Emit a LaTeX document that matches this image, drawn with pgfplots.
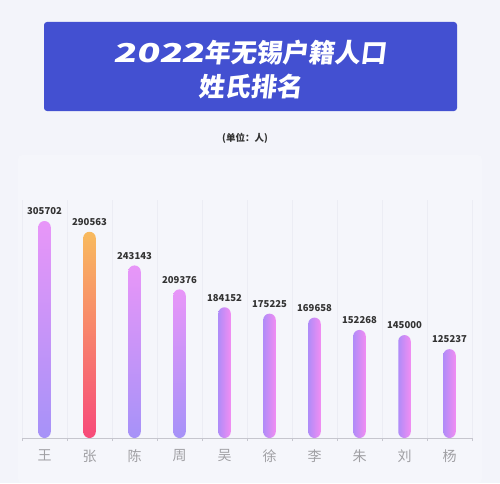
\documentclass[border=0pt]{standalone}
\usepackage{graphicx}
\usepackage{pgfplots}
\pgfplotsset{compat=1.18}
\usepackage{fontspec}
\setmainfont{Noto Sans}
\newfontfamily\cjk{Noto Sans CJK SC}
\newfontfamily\titlefont[FakeSlant=0.12]{Noto Sans CJK SC}

\definecolor{bg}{HTML}{F3F4FA}
\definecolor{panel}{HTML}{F5F6FB}
\definecolor{titlebg}{HTML}{4350D1}
\definecolor{txt}{HTML}{333333}
\definecolor{lbl}{HTML}{A0A0A4}
\definecolor{axisc}{HTML}{C6C6CE}
\definecolor{gridc}{HTML}{ECEDF4}
\definecolor{pinkT}{HTML}{E896F8}
\definecolor{purpB}{HTML}{A692F8}
\definecolor{purpL}{HTML}{B08CF8}
\definecolor{pinkR}{HTML}{F28DF2}
\definecolor{orangeT}{HTML}{F8BA5E}
\definecolor{redB}{HTML}{F74A7A}

\pgfplotsset{
  bar/.style={ybar, bar shift=0pt, bar width=12.5pt, draw=none,
    rounded corners=6.2pt,
    point meta=explicit symbolic,
    nodes near coords=\pgfplotspointmeta,
    every node near coord/.append style={font=\cjk\bfseries\fontsize{9.5}{9.5}\selectfont,
      text=txt, yshift=2.5pt}},
  vbar/.style={bar, top color=pinkT, bottom color=purpB},
  hbar/.style={bar, left color=purpL, right color=pinkR},
}

\begin{document}
\begin{tikzpicture}
\fill[bg] (0pt,0pt) rectangle (500pt,483pt);
\fill[panel, rounded corners=4pt] (18pt,0pt) rectangle (482pt,328pt);
\fill[titlebg, rounded corners=3pt] (44pt,372pt) rectangle (457pt,461pt);
\node[white, font=\titlefont\bfseries\fontsize{26}{26}\selectfont] at (250pt,430pt)
  {\scalebox{1.45}[1]{2022}年无锡户籍人口};
\node[white, font=\titlefont\bfseries\fontsize{26}{26}\selectfont] at (250pt,396pt) {姓氏排名};
\node[text=txt, font=\cjk\bfseries\fontsize{9.5}{10}\selectfont] at (245pt,345pt) {(单位：人)};

\begin{axis}[
  at={(22pt,45pt)}, anchor=south west,
  scale only axis, width=450pt, height=238pt,
  xmin=-0.5, xmax=9.5, ymin=0, ymax=335300,
  clip=false,
  axis x line*=bottom, axis y line=none,
  axis line style={axisc, line width=0.8pt},
  xtick={0,...,9},
  xticklabels={王,张,陈,周,吴,徐,李,朱,刘,杨},
  major tick length=0pt,
  minor xtick={-0.5,0.5,...,9.5},
  minor tick length=3pt, tick align=outside,
  minor tick style={axisc, line width=0.6pt},
  xminorgrids, minor x grid style={gridc, line width=0.6pt},
  xticklabel style={font=\cjk\fontsize{14}{14}\selectfont, text=lbl, yshift=-8pt},
]
\addplot[vbar] coordinates {(0,305702) [305702]};
\addplot[bar, top color=orangeT, bottom color=redB] coordinates {(1,290563) [290563]};
\addplot[vbar] coordinates {(2,243143) [243143]};
\addplot[vbar] coordinates {(3,209376) [209376]};
\addplot[hbar] coordinates {(4,184152) [184152]};
\addplot[hbar] coordinates {(5,175225) [175225]};
\addplot[hbar] coordinates {(6,169658) [169658]};
\addplot[hbar] coordinates {(7,152268) [152268]};
\addplot[hbar] coordinates {(8,145000) [145000]};
\addplot[hbar] coordinates {(9,125237) [125237]};
\end{axis}
\end{tikzpicture}
\end{document}
